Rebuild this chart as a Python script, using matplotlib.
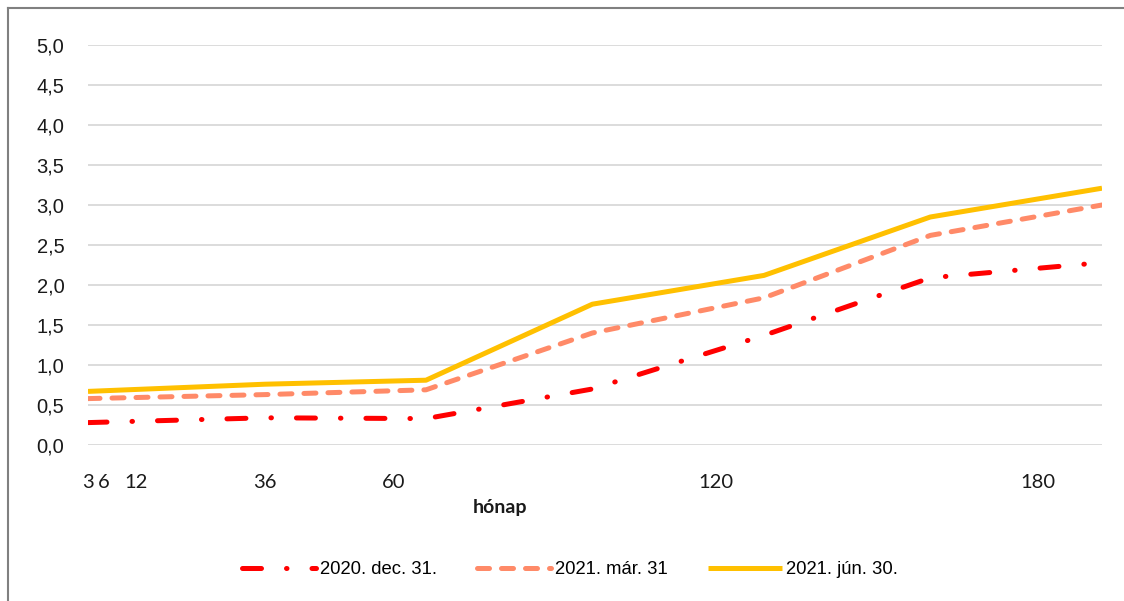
import matplotlib
matplotlib.use('Agg')
import matplotlib.pyplot as plt
from matplotlib.lines import Line2D
from matplotlib.ticker import FuncFormatter

# maturity (months) of each curve point
months = [3, 36, 66, 97, 129, 160, 192]

# yield curves, %
yield_2020_dec = [0.28, 0.34, 0.33, 0.70, 1.37, 2.09, 2.28]
yield_2021_mar = [0.58, 0.63, 0.69, 1.40, 1.84, 2.62, 3.00]
yield_2021_jun = [0.67, 0.76, 0.81, 1.76, 2.12, 2.85, 3.21]

series_labels = ['2020. dec. 31.', '2021. már. 31', '2021. jún. 30.']
month_ticks = [3, 6, 12, 36, 60, 120, 180]
y_ticks = [0.0, 0.5, 1.0, 1.5, 2.0, 2.5, 3.0, 3.5, 4.0, 4.5, 5.0]

W, H = 1124, 601
fig = plt.figure(figsize=(W / 100, H / 100), dpi=100)
ax = fig.add_axes([88 / W, (H - 445) / H, (1102 - 88) / W, 400 / H])

lw = 3.6
ax.plot(months, yield_2020_dec, color='#FF0000', lw=lw,
        linestyle=(0, (3.8, 5, 0.1, 5)), dash_capstyle='round',
        label=series_labels[0], zorder=3)
ax.plot(months, yield_2021_mar, color='#FF8A68', lw=lw,
        linestyle=(0, (2.4, 2.4)), dash_capstyle='round',
        label=series_labels[1], zorder=3)
ax.plot(months, yield_2021_jun, color='#FFC000', lw=lw,
        solid_capstyle='butt', label=series_labels[2], zorder=3)

ax.set_xlim(3, 192)
ax.set_ylim(0, 5)
ax.set_yticks(y_ticks)
ax.yaxis.set_major_formatter(FuncFormatter(lambda v, _: f"{v:.1f}".replace('.', ',')))
ax.set_xticks(month_ticks)
ax.set_xticklabels([str(m) for m in month_ticks], fontfamily='Lato', fontsize=14.5)
for lab in ax.get_yticklabels():
    lab.set_fontfamily('Liberation Sans')
    lab.set_fontsize(14.5)
ax.tick_params(axis='both', length=0, colors='#1a1a1a')
ax.tick_params(axis='y', pad=17)
ax.tick_params(axis='x', pad=21)
ax.grid(axis='y', color='#d9d9d9', lw=1.3)
ax.set_axisbelow(True)
for s in ax.spines.values():
    s.set_visible(False)

fig.text(500 / W, (H - 508) / H, 'hónap', fontfamily='Lato', fontweight='bold',
         fontsize=14, ha='center', va='center', color='#1a1a1a')

fig.legend(loc='center', bbox_to_anchor=(570 / W, (H - 570) / H), ncol=3,
           frameon=False, handlelength=4.0, handletextpad=0.2, columnspacing=2.2,
           prop={'family': 'Liberation Sans', 'size': 13.3})

# chart frame (left and top edges)
fig.add_artist(Line2D([8 / W, 8 / W], [0, (H - 8) / H], transform=fig.transFigure,
                      color='#808080', lw=1.5))
fig.add_artist(Line2D([8 / W, 1], [(H - 8) / H, (H - 8) / H], transform=fig.transFigure,
                      color='#808080', lw=1.5))

fig.savefig('out.png', dpi=100, facecolor='white')
